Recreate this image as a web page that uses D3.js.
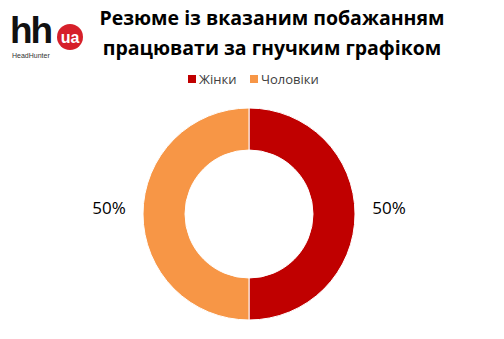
<!DOCTYPE html>
<html>
<head>
<meta charset="utf-8">
<script src="https://d3js.org/d3.v7.min.js"></script>
<style>
  body { margin: 0; background: #fff; }
  svg { display: block; font-family: "Open Sans", "Noto Sans", sans-serif; }
</style>
</head>
<body>
<script>
var categories = ["Жінки", "Чоловіки"];
var values = [50, 50];
var colors = ["#C00000", "#F79646"];
var titleLines = ["Резюме із вказаним побажанням", "працювати за гнучким графіком"];

var width = 504, height = 339;
var svg = d3.select("body").append("svg")
    .attr("width", width)
    .attr("height", height);

// logo
var logo = svg.append("g");
logo.append("text")
    .attr("x", 10).attr("y", 43)
    .attr("font-family", "Liberation Sans, Arial, sans-serif")
    .attr("font-weight", "bold")
    .attr("font-size", 37)
    .attr("letter-spacing", -2)
    .attr("fill", "#111")
    .text("hh");
logo.append("circle")
    .attr("cx", 70).attr("cy", 37).attr("r", 13)
    .attr("fill", "#D6202A");
logo.append("text")
    .attr("x", 70).attr("y", 43)
    .attr("text-anchor", "middle")
    .attr("font-family", "Liberation Sans, Arial, sans-serif")
    .attr("font-weight", "bold")
    .attr("font-size", 16)
    .attr("fill", "#fff")
    .text("ua");
logo.append("text")
    .attr("x", 12).attr("y", 58)
    .attr("font-family", "Liberation Sans, Arial, sans-serif")
    .attr("font-size", 7)
    .attr("fill", "#333")
    .text("HeadHunter");

// title
svg.append("g").selectAll("text")
    .data(titleLines)
    .enter().append("text")
    .attr("x", 272)
    .attr("y", function(d, i) { return 25 + i * 30; })
    .attr("text-anchor", "middle")
    .attr("font-weight", "bold")
    .attr("font-size", 19.5)
    .attr("fill", "#000")
    .text(function(d) { return d; });

// legend
var legendX = [188, 250];
var legend = svg.append("g").selectAll("g")
    .data(categories)
    .enter().append("g")
    .attr("transform", function(d, i) { return "translate(" + legendX[i] + ",75)"; });
legend.append("rect")
    .attr("width", 8).attr("height", 8)
    .attr("fill", function(d, i) { return colors[i]; });
legend.append("text")
    .attr("x", 11).attr("y", 9)
    .attr("font-size", 13)
    .attr("fill", "#404040")
    .text(function(d) { return d; });

// donut
var cx = 249, cy = 214, outerR = 106, innerR = 64;
var pie = d3.pie().sort(null)(values);
var arc = d3.arc().innerRadius(innerR).outerRadius(outerR);
var g = svg.append("g").attr("transform", "translate(" + cx + "," + cy + ")");
g.selectAll("path")
    .data(pie)
    .enter().append("path")
    .attr("d", arc)
    .attr("fill", function(d, i) { return colors[i]; })
    .attr("stroke", "#fff")
    .attr("stroke-width", 1);

// labels outside
var labelR = 140;
g.selectAll("text.lbl")
    .data(pie)
    .enter().append("text")
    .attr("class", "lbl")
    .attr("x", function(d) { var a = (d.startAngle + d.endAngle) / 2; return Math.sin(a) * labelR; })
    .attr("y", function(d) { var a = (d.startAngle + d.endAngle) / 2; return -Math.cos(a) * labelR - 6; })
    .attr("dy", "0.35em")
    .attr("text-anchor", "middle")
    .attr("font-size", 17)
    .attr("fill", "#000")
    .text(function(d) { return d.value + "%"; });
</script>
</body>
</html>
